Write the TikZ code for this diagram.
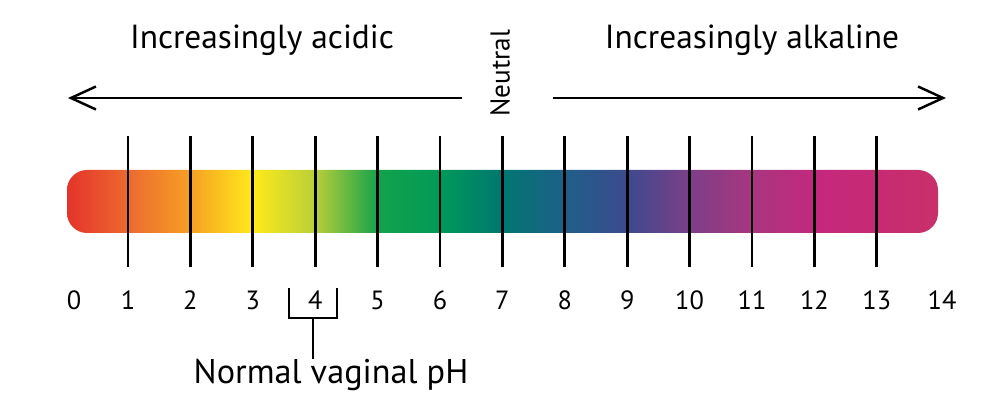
\documentclass[tikz,border=0pt]{standalone}
\usepackage{fontspec}
\setmainfont{PT Sans}
\usepackage{xcolor}
\usetikzlibrary{arrows.meta,positioning}

% colours along the scale, one per pH unit
\definecolor{ph0}{HTML}{E4322B}
\definecolor{ph1}{HTML}{EC6A2F}
\definecolor{ph2}{HTML}{F6A024}
\definecolor{ph3}{HTML}{FFEA1A}
\definecolor{ph4}{HTML}{B8CF38}
\definecolor{ph5}{HTML}{14A24B}
\definecolor{ph6}{HTML}{009A58}
\definecolor{ph7}{HTML}{007670}
\definecolor{ph8}{HTML}{1F5F89}
\definecolor{ph9}{HTML}{3D4A8E}
\definecolor{ph10}{HTML}{7C3F88}
\definecolor{ph11}{HTML}{A8367F}
\definecolor{ph12}{HTML}{C4287E}
\definecolor{ph13}{HTML}{C72A73}
\definecolor{ph14}{HTML}{C8306A}

\tikzset{
  heading/.style={font=\fontsize{19}{22}\selectfont, inner sep=0pt},
  phnum/.style={font=\fontsize{15}{18}\selectfont, inner sep=0pt},
  phtick/.style={line width=1.6pt},
  bracket/.style={line width=0.8pt}
}

\begin{document}
\begin{tikzpicture}[>={Straight Barb[length=5mm,width=4.6mm]}]
  \useasboundingbox (0,0) rectangle (20,8.26);
  % arrows and headings
  \coordinate (acidS) at (9.24,6.30);
  \coordinate (acidE) at (1.36,6.30);
  \coordinate (alkS) at (11.06,6.30);
  \coordinate (alkE) at (18.92,6.30);
  \draw[->, line width=1.4pt] (acidS) -- (acidE);
  \draw[->, line width=1.4pt] (alkS) -- (alkE);
  \node[heading] (acidic) at (5.24,7.46) {Increasingly acidic};
  \node[heading] (alkaline) at (15.04,7.46) {Increasingly alkaline};
  \node[font=\fontsize{15.5}{18}\selectfont, inner sep=0pt, rotate=90] (neutral) at (10.0,6.80) {Neutral};
  % coloured bar
  \begin{scope}
    \clip[rounded corners=0.4cm] (1.34,3.60) rectangle (18.76,4.86);
    \foreach \n [count=\m] in {0,...,13}
      \shade[left color=ph\n, right color=ph\m]
        ({1.312+1.248*\n},3.60) rectangle ({1.322+1.248*\m},4.86);
  \end{scope}
  % ticks and numbers
  \foreach \n in {1,...,13} {
    \draw[phtick] ({1.312+1.248*\n},2.92) -- ++(0,2.62);
    \node[phnum] (n\n) at ({1.312+1.248*\n},2.26) {\n};
  }
  \node[phnum] (n0) at (1.48,2.26) {0};
  \node[phnum] (n14) at (18.84,2.26) {14};
  % normal range
  \node[heading, font=\fontsize{19.5}{23}\selectfont] (vag) at (6.62,0.76) {Normal vaginal pH};
  \coordinate (stem) at (6.26,1.90);
  \draw[bracket] (5.78,2.50) -- (5.78,1.90) -- (6.74,1.90) -- (6.74,2.50);
  \draw[bracket] (stem) -- (stem |- vag.north);
\end{tikzpicture}
\end{document}
